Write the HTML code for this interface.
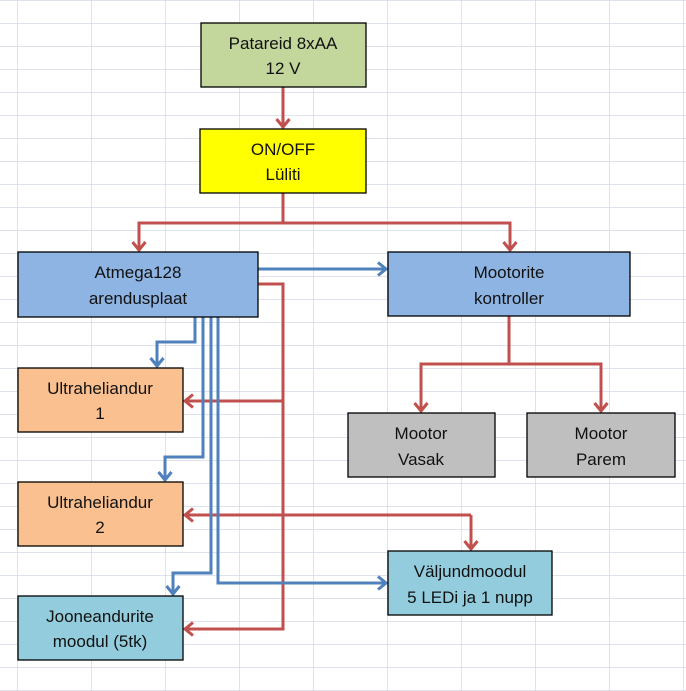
<!DOCTYPE html>
<html><head><meta charset="utf-8"><style>
html,body{margin:0;padding:0;background:#fff}
svg{display:block}
text{font-family:"Liberation Sans",sans-serif;font-size:17px;fill:#111}
</style></head><body>
<svg width="686" height="691" xmlns="http://www.w3.org/2000/svg">
<defs>
<pattern id="g" width="74" height="23" patternUnits="userSpaceOnUse" x="17" y="0">
<path d="M0 0V23M0 0H74" stroke="#c9d1e0" stroke-width="1.2" fill="none"/>
</pattern>
<marker id="ar" markerWidth="14" markerHeight="16" refX="10" refY="8" orient="auto" markerUnits="userSpaceOnUse">
<path d="M2 1.5L10 8L2 14.5" stroke="#c0504d" stroke-width="3" fill="none"/></marker>
<marker id="ab" markerWidth="14" markerHeight="16" refX="10" refY="8" orient="auto" markerUnits="userSpaceOnUse">
<path d="M2 1.5L10 8L2 14.5" stroke="#4f81bd" stroke-width="3" fill="none"/></marker>
</defs>
<rect x="0" y="0" width="686" height="691" fill="url(#g)"/>
<g fill="none" stroke-width="3">
<g stroke="#c0504d">
<path d="M283 87V127" marker-end="url(#ar)"/>
<path d="M283 193V223H139V250" marker-end="url(#ar)"/>
<path d="M283 223H510V250" marker-end="url(#ar)"/>
<path d="M509 316V364H421V411" marker-end="url(#ar)"/>
<path d="M509 364H601V411" marker-end="url(#ar)"/>
<path d="M258 284H283V629H185" marker-end="url(#ar)"/>
<path d="M283 401H185" marker-end="url(#ar)"/>
<path d="M471 515H185" marker-end="url(#ar)"/>
<path d="M471 515V549" marker-end="url(#ar)"/>
</g>
<g stroke="#4f81bd">
<path d="M258 269H386" marker-end="url(#ab)"/>
<path d="M195 317V342H157V366" marker-end="url(#ab)"/>
<path d="M203 317V457H165V480" marker-end="url(#ab)"/>
<path d="M211 317V573H173V594" marker-end="url(#ab)"/>
<path d="M218 317V583H386" marker-end="url(#ab)"/>
</g>
</g>
<g stroke="#000" stroke-width="1.3">
<rect x="201" y="23" width="165" height="64" fill="#c3d69b"/>
<rect x="200" y="129" width="166" height="64" fill="#ffff00"/>
<rect x="18" y="252" width="240" height="65" fill="#8eb4e3"/>
<rect x="388" y="252" width="242" height="64" fill="#8eb4e3"/>
<rect x="348" y="413" width="147" height="64" fill="#bfbfbf"/>
<rect x="527" y="413" width="148" height="64" fill="#bfbfbf"/>
<rect x="18" y="368" width="165" height="64" fill="#fac08f"/>
<rect x="18" y="482" width="165" height="64" fill="#fac08f"/>
<rect x="18" y="596" width="165" height="64" fill="#93cddd"/>
<rect x="388" y="551" width="164" height="64" fill="#93cddd"/>
</g>
<g text-anchor="middle">
<text x="283" y="49">Patareid 8xAA</text><text x="283" y="74">12 V</text>
<text x="283" y="155">ON/OFF</text><text x="283" y="180">Lüliti</text>
<text x="138" y="278">Atmega128</text><text x="138" y="304">arendusplaat</text>
<text x="509" y="278">Mootorite</text><text x="509" y="304">kontroller</text>
<text x="421" y="439">Mootor</text><text x="421" y="465">Vasak</text>
<text x="601" y="439">Mootor</text><text x="601" y="465">Parem</text>
<text x="100" y="394">Ultraheliandur</text><text x="100" y="419">1</text>
<text x="100" y="508">Ultraheliandur</text><text x="100" y="533">2</text>
<text x="100" y="622">Jooneandurite</text><text x="100" y="647">moodul (5tk)</text>
<text x="470" y="577">Väljundmoodul</text><text x="470" y="603">5 LEDi ja 1 nupp</text>
</g>
</svg>
</body></html>
